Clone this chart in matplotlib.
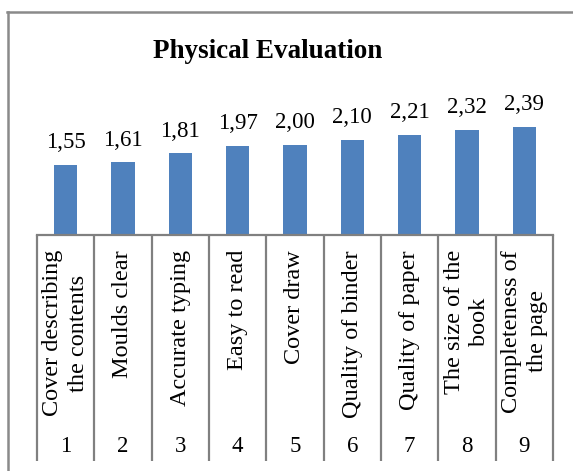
# Physical Evaluation bar chart
import numpy as np
import matplotlib
matplotlib.use("Agg")
import matplotlib.pyplot as plt
from matplotlib.lines import Line2D

categories = ["Cover describing\nthe contents", "Moulds clear", "Accurate typing",
              "Easy to read", "Cover draw", "Quality of binder", "Quality of paper",
              "The size of the\nbook", "Completeness of\nthe page"]
numbers = ["1", "2", "3", "4", "5", "6", "7", "8", "9"]
scores = [1.55, 1.61, 1.81, 1.97, 2.00, 2.10, 2.21, 2.32, 2.39]

plt.rcParams['font.family'] = ['Liberation Serif', 'DejaVu Serif']

W, H = 573, 471
fig = plt.figure(figsize=(W / 100, H / 100), dpi=100)

def px(x0, y0, x1, y1):
    # pixel box (top-left origin) -> figure fraction rect
    return [x0 / W, 1 - y1 / H, (x1 - x0) / W, (y1 - y0) / H]

# outer chart frame (only left and top edges visible)
frame_col = "#8a8a8a"
fig.add_artist(Line2D([7.5 / W, 7.5 / W], [1 - 11.5 / H, 0], color=frame_col, lw=1.8))
fig.add_artist(Line2D([6.5 / W, 1], [1 - 11.5 / H, 1 - 11.5 / H], color=frame_col, lw=1.8))

# title
fig.text(267.5 / W, 1 - 58 / H, "Physical Evaluation", ha="center", va="baseline",
         fontsize=19.5, fontweight="bold")

x = np.arange(len(scores))

# bars
ax = fig.add_axes(px(37, 99.4, 553, 235))
bars = ax.bar(x, scores, width=0.41, color="#4f81bd")
ax.set_xlim(-0.5, len(scores) - 0.5)
ax.set_ylim(0, 3)
ax.axis("off")
for xi, v in zip(x, scores):
    ax.annotate(f"{v:.2f}".replace(".", ","), (xi, v), xytext=(0, 12),
                textcoords="offset points", ha="center", va="baseline", fontsize=16.5)

# category table below the bars
line_col = "#808080"
ax2 = fig.add_axes(px(37, 235, 553, 461))
ax2.set_xlim(-0.5, len(scores) - 0.5)
ax2.set_ylim(0, 1)
ax2.axis("off")
ax2.axhline(1, color=line_col, lw=1.6, clip_on=False)
ax2.vlines(np.arange(len(scores) + 1) - 0.5, 0, 1, color=line_col, lw=1.6, clip_on=False)
for xi, lab, n in zip(x, categories, numbers):
    ax2.text(xi, 1 - 15 / 226, lab, rotation=90, rotation_mode="anchor",
             ha="right", va="center", multialignment="center", fontsize=17.5,
             linespacing=1.3)
    ax2.text(xi, 1 - 212 / 226, n, ha="center", va="center", fontsize=16.5)

fig.savefig("out.png", dpi=100)
